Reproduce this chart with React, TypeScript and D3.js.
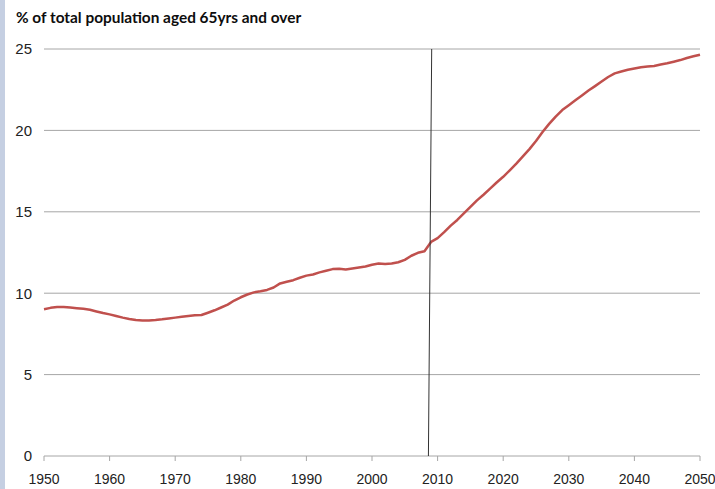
import React from 'react';
import * as d3 from 'd3';

const years = d3.range(1950, 2051);

// % of population aged 65+, one value per year 1950..2050
const share65 = [
  9.02, 9.1, 9.15, 9.15, 9.12, 9.08, 9.04, 8.98, 8.88, 8.78,
  8.7, 8.6, 8.5, 8.42, 8.35, 8.33, 8.33, 8.36, 8.4, 8.45,
  8.5, 8.55, 8.6, 8.64, 8.66, 8.8, 8.95, 9.12, 9.3, 9.55,
  9.75, 9.92, 10.05, 10.12, 10.2, 10.35, 10.6, 10.7, 10.8, 10.95,
  11.08, 11.15, 11.28, 11.38, 11.48, 11.5, 11.46, 11.52, 11.58, 11.64,
  11.75, 11.82, 11.8, 11.82, 11.9, 12.05, 12.3, 12.48, 12.58, 13.15,
  13.38, 13.75, 14.15, 14.5, 14.9, 15.3, 15.7, 16.05, 16.42, 16.8,
  17.15, 17.55, 17.96, 18.4, 18.85, 19.35, 19.9, 20.4, 20.85, 21.25,
  21.55, 21.85, 22.15, 22.45, 22.72, 23.0, 23.28, 23.5, 23.62, 23.72,
  23.8, 23.88, 23.92, 23.96, 24.05, 24.12, 24.22, 24.32, 24.45, 24.55,
  24.65,
];

const xTicks = d3.range(1950, 2051, 10);
const yTicks = [0, 5, 10, 15, 20, 25];
// marker for "today": slightly slanted in the source
const markerTop = 2009.1;
const markerBottom = 2008.6;

const title = '% of total population aged 65yrs and over';

export default function App() {
  const width = 715;
  const height = 489;

  const x = d3.scaleLinear().domain([1950, 2050]).range([44, 700]);
  const y = d3.scaleLinear().domain([0, 25]).range([456, 49]);

  const line = d3.line<number>()
    .x((_, i) => x(years[i]))
    .y(d => y(d));

  return (
    <svg width={width} height={height}
      style={{ position: 'absolute', left: 0, top: 0, background: '#fff' }}>
      <rect x={0} y={0} width={5} height={height} fill="#c5cfe2" />

      <text x={16} y={23} fontFamily="Lato, 'Open Sans', sans-serif" fontWeight="bold"
        fontSize={15.4} fill="#0d0d0d">{title}</text>

      {yTicks.filter(t => t > 0).map(t => (
        <line key={t} x1={x(1950)} x2={x(2050)} y1={y(t)} y2={y(t)}
          stroke="#a6a6a6" strokeWidth={1} />
      ))}
      {yTicks.map(t => (
        <text key={t} x={32} y={y(t)} dy="0.36em" textAnchor="end"
          fontFamily="'Liberation Sans', Arial, sans-serif" fontSize={15} fill="#222">{t}</text>
      ))}

      <line x1={x(1950)} x2={x(2050)} y1={y(0)} y2={y(0)} stroke="#a6a6a6" strokeWidth={1} />
      {xTicks.map(t => (
        <g key={t}>
          <line x1={x(t)} x2={x(t)} y1={y(0)} y2={y(0) + 5} stroke="#a6a6a6" strokeWidth={1} />
          <text x={x(t)} y={y(0) + 28} textAnchor="middle"
            fontFamily="'Liberation Sans', Arial, sans-serif" fontSize={14} fill="#222">{t}</text>
        </g>
      ))}

      <path d={line(share65) || ''} fill="none" stroke="#c0504d" strokeWidth={2.5}
        strokeLinejoin="round" />

      <line x1={x(markerTop)} y1={y(25)} x2={x(markerBottom)} y2={y(0)}
        stroke="#333" strokeWidth={1} />
    </svg>
  );
}
